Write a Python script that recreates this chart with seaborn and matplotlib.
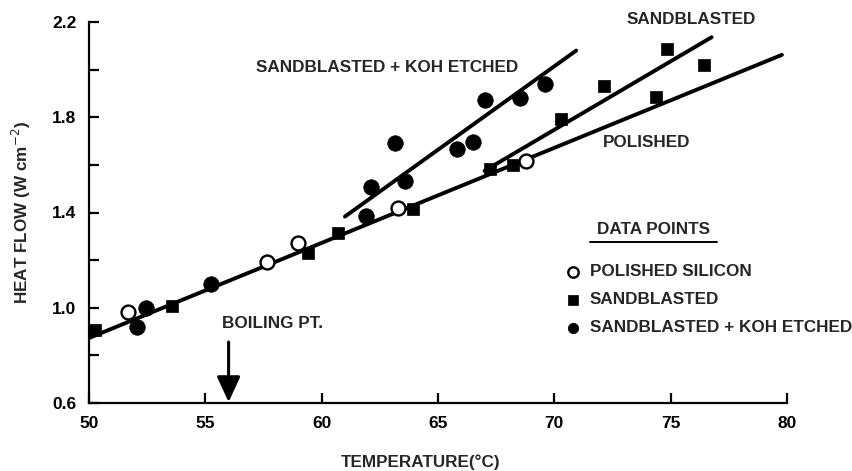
import matplotlib
matplotlib.use("Agg")
import matplotlib.pyplot as plt
import seaborn as sns

# ---- data ----
polished_x = [51.66, 57.64, 58.97, 63.27, 68.79]
polished_y = [0.984, 1.194, 1.273, 1.418, 1.618]

sand_x = [50.26, 53.58, 59.40, 60.72, 63.91, 67.24, 68.22, 70.28, 72.14, 74.38, 74.86, 76.45]
sand_y = [0.907, 1.008, 1.229, 1.313, 1.414, 1.584, 1.600, 1.792, 1.932, 1.887, 2.086, 2.020]

koh_x = [52.05, 52.44, 55.24, 61.91, 62.11, 63.15, 63.59, 65.81, 66.52, 67.02, 68.53, 69.60]
koh_y = [0.918, 0.998, 1.099, 1.386, 1.505, 1.691, 1.533, 1.666, 1.698, 1.873, 1.880, 1.939]

# fitted lines (end points)
fit_polished_x = [50.0, 79.78]
fit_polished_y = [0.873, 2.062]
fit_sand_x = [67.0, 76.76]
fit_sand_y = [1.575, 2.136]
fit_koh_x = [61.0, 70.94]
fit_koh_y = [1.383, 2.080]

x_ticks = [50, 55, 60, 65, 70, 75, 80]
y_ticks = [0.6, 0.8, 1.0, 1.2, 1.4, 1.6, 1.8, 2.0, 2.2]
y_ticklabels = ["0.6", "", "1.0", "", "1.4", "", "1.8", "", "2.2"]

boiling_pt = 56.0

sns.set_theme(style="ticks")
plt.rcParams["font.family"] = ["Liberation Sans", "DejaVu Sans"]

W, H = 853, 471
fig = plt.figure(figsize=(W / 100, H / 100), dpi=100)
ax = fig.add_axes([89 / W, 1 - 403 / H, (787 - 89) / W, (403 - 22) / H])


def fpos(px, py):
    return px / W, 1 - py / H


lw = 2.8
for fx, fy in [(fit_polished_x, fit_polished_y), (fit_sand_x, fit_sand_y), (fit_koh_x, fit_koh_y)]:
    sns.lineplot(x=fx, y=fy, ax=ax, color="black", linewidth=lw, solid_capstyle="round",
                 estimator=None, sort=False, legend=False)

sns.scatterplot(x=sand_x, y=sand_y, ax=ax, marker="s", s=85, color="black",
                edgecolor="black", linewidth=0.5, zorder=4, legend=False)
sns.scatterplot(x=koh_x, y=koh_y, ax=ax, marker="o", s=125, color="black",
                edgecolor="black", linewidth=0.5, zorder=4, legend=False)
sns.scatterplot(x=polished_x, y=polished_y, ax=ax, marker="o", s=100, color="white",
                edgecolor="black", linewidth=1.7, zorder=5, legend=False)

ax.set_xlim(50, 80)
ax.set_ylim(0.6, 2.2)
ax.set_xticks(x_ticks)
ax.set_yticks(y_ticks)
ax.set_yticklabels(y_ticklabels)
for s in ["top", "right"]:
    ax.spines[s].set_visible(False)
for s in ["left", "bottom"]:
    ax.spines[s].set_linewidth(1.6)
    ax.spines[s].set_color("black")
ax.tick_params(direction="in", length=7, width=1.6, colors="black",
               labelsize=12.5, pad=9)
for lab in ax.get_xticklabels() + ax.get_yticklabels():
    lab.set_fontweight("bold")

TXT = dict(fontsize=12.3, fontweight="bold")

ax.set_xlabel("TEMPERATURE(°C)", labelpad=17, **TXT)
ax.xaxis.label.set_x((421 - 89) / (787 - 89))
ax.set_ylabel("HEAT FLOW (W cm$^{-2}$)", labelpad=14, **TXT)

# line annotations
fig.text(*fpos(387, 68), "SANDBLASTED + KOH ETCHED", ha="center", va="center", **TXT)
fig.text(*fpos(691, 20), "SANDBLASTED", ha="center", va="center", **TXT)
fig.text(*fpos(647, 143), "POLISHED", ha="center", va="center", **TXT)

# boiling point arrow
ax.annotate("", xy=(boiling_pt, 0.604), xytext=(boiling_pt, 0.856),
            arrowprops=dict(arrowstyle="-|>,head_length=1.3,head_width=0.6",
                            color="black", lw=2.2, shrinkA=0, shrinkB=0))
fig.text(*fpos(272, 323), "BOILING PT.", ha="center", va="center", **TXT)

# data point key
fig.text(*fpos(654, 230), "DATA POINTS", ha="center", va="center", **TXT)
fig.add_artist(plt.Line2D([590 / W, 717 / W], [1 - 242 / H, 1 - 242 / H], color="black", lw=1.4))

key_rows = [("o", "white", "POLISHED SILICON", 272),
            ("s", "black", "SANDBLASTED", 300),
            ("o", "black", "SANDBLASTED + KOH ETCHED", 328)]
for mk, fc, label, py in key_rows:
    x0, y0 = fpos(573, py)
    fig.add_artist(plt.Line2D([x0], [y0], marker=mk, markersize=7.5,
                              markerfacecolor=fc, markeredgecolor="black",
                              markeredgewidth=1.7 if fc == "white" else 0.5,
                              linestyle="none"))
    fig.text(*fpos(590, py), label, ha="left", va="center", **TXT)

fig.savefig("out.png", dpi=100)
